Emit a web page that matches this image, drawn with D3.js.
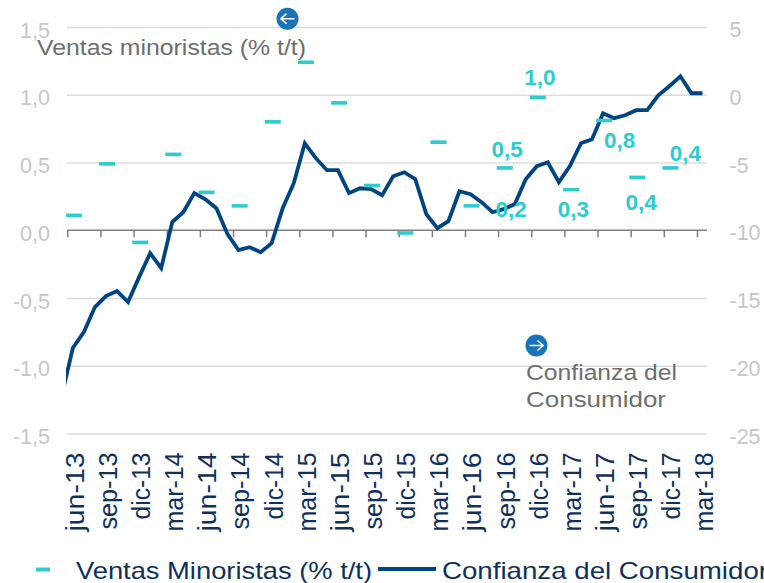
<!DOCTYPE html>
<html><head><meta charset="utf-8">
<script src="https://cdn.jsdelivr.net/npm/d3@7"></script>
<style>html,body{margin:0;padding:0;background:#fff;overflow:hidden}svg{display:block;font-family:"Liberation Sans",Arial,sans-serif}</style>
</head><body><svg id="c" width="764" height="583"></svg>
<script>
const quarterLabels = ["jun-13","sep-13","dic-13","mar-14","jun-14","sep-14","dic-14","mar-15","jun-15","sep-15","dic-15","mar-16","jun-16","sep-16","dic-16","mar-17","jun-17","sep-17","dic-17","mar-18"];
const ventas = [0.11,0.49,-0.09,0.56,0.28,0.18,0.80,1.24,0.94,0.33,-0.02,0.65,0.18,0.46,0.98,0.30,0.81,0.39,0.46,null];
const confianzaPrev = -22.2;
const confianza = [-18.69,-17.51,-15.67,-14.86,-14.49,-15.30,-13.46,-11.69,-12.80,-9.40,-8.67,-7.26,-7.71,-8.37,-10.29,-11.47,-11.25,-11.62,-10.95,-8.37,-6.53,-3.58,-4.68,-5.57,-5.57,-7.26,-6.90,-6.97,-7.41,-6.01,-5.72,-6.23,-8.81,-9.85,-9.33,-7.12,-7.34,-7.93,-8.67,-8.44,-8.08,-6.23,-5.27,-4.98,-6.45,-5.27,-3.58,-3.28,-1.36,-1.73,-1.51,-1.14,-1.14,-0.04,0.63,1.36,0.11,0.11];
const leftTicks = [1.5,1,0.5,0,-0.5,-1,-1.5];
const rightTicks = [5,0,-5,-10,-15,-20,-25];
const dataLabels = [
  {t:"1,0",i:42,v:0.98,dx:3,dy:-12},{t:"0,5",i:39,v:0.46,dx:3.5,dy:-11},{t:"0,2",i:39,v:0.18,dx:7.5,dy:11},
  {t:"0,3",i:45,v:0.30,dx:3.5,dy:27},{t:"0,8",i:48,v:0.81,dx:16.5,dy:28},{t:"0,4",i:51,v:0.39,dx:5,dy:33},{t:"0,4",i:54,v:0.46,dx:16,dy:-7}
];
const GRID="#dcdcdc", TICK="#c6c6c6", TEAL="#2dcccd", NAVY="#004481", DARK="#10305c", GREY="#6e6e6e", BLUE="#1973b8";
const svg=d3.select("#c");
const x=d3.scaleLinear().domain([0,58]).range([67.3,708]);
const yL=d3.scaleLinear().domain([-1.5,1.5]).range([433.5,27]);
const yR=d3.scaleLinear().domain([-25,5]).range([433.5,27]);
const fmt=d=>d3.format(".1f")(d).replace(".",",").replace("\u2212","-");

// gridlines
const gridAxis=d3.axisLeft(yL).tickValues(leftTicks.filter(d=>d!==0)).tickSize(-640).tickFormat("");
const gg=svg.append("g").attr("transform","translate(67,0)").call(gridAxis);
gg.select(".domain").remove();
gg.selectAll("line").attr("stroke",GRID).attr("stroke-width",1.5);

// left axis
const la=svg.append("g").attr("transform","translate(50,0)").call(d3.axisLeft(yL).tickValues(leftTicks).tickSize(0).tickPadding(0).tickFormat(fmt));
la.select(".domain").remove();
la.selectAll("text").attr("fill",TICK).attr("font-size",21.5).attr("font-family","Liberation Sans").attr("dy",10).attr("x",0);

// right axis
const ra=svg.append("g").attr("transform","translate(729.5,0)").call(d3.axisRight(yR).tickValues(rightTicks).tickSize(0).tickPadding(0).tickFormat(d=>String(d)));
ra.select(".domain").remove();
ra.selectAll("text").attr("fill",TICK).attr("font-size",21.5).attr("font-family","Liberation Sans").attr("dy",9.5).attr("x",0);

// x axis on zero line
const xa=svg.append("g").attr("transform",`translate(0,${yL(0)})`).call(d3.axisBottom(x).tickValues(quarterLabels.map((_,i)=>i*3)).tickSize(7).tickSizeOuter(0).tickPadding(0).tickFormat(""));
xa.select(".domain").attr("stroke","#808080").attr("stroke-width",1.5).attr("d","M67,0H707");
xa.selectAll("line").attr("stroke","#808080").attr("stroke-width",1.5);

// x labels
svg.append("g").selectAll("text").data(quarterLabels).join("text")
  .attr("transform",(d,i)=>`translate(${x(i*3)+16.5},452.5) rotate(-90)`)
  .attr("text-anchor","end").attr("fill",DARK).attr("font-size",25)
  .attr("textLength",d=>d.startsWith("dic")?67:d.startsWith("mar")?79:d.startsWith("sep")?77:79)
  .attr("lengthAdjust","spacingAndGlyphs").text(d=>d);

// confidence line
svg.append("clipPath").attr("id","pl").append("rect").attr("x",66).attr("y",0).attr("width",700).attr("height",583);
const line=d3.line().x(d=>x(d.i)).y(d=>yR(d.v));
svg.append("path").attr("clip-path","url(#pl)")
  .datum([{i:-0.5,v:confianzaPrev},...confianza.map((v,k)=>({i:k+0.5,v}))])
  .attr("d",line).attr("fill","none").attr("stroke",NAVY).attr("stroke-width",3.8).attr("stroke-linejoin","miter");

// retail dashes
svg.append("g").selectAll("line").data(ventas.map((v,k)=>({i:k*3+0.6,v})).filter(d=>d.v!==null)).join("line")
  .attr("x1",d=>x(d.i)-8).attr("x2",d=>x(d.i)+8).attr("y1",d=>yL(d.v)).attr("y2",d=>yL(d.v))
  .attr("stroke",TEAL).attr("stroke-width",3.6);

// data labels
svg.append("g").selectAll("text").data(dataLabels).join("text")
  .attr("x",d=>x(d.i+0.5)+d.dx).attr("y",d=>yL(d.v)+d.dy).attr("text-anchor","middle")
  .attr("fill",TEAL).attr("font-weight","bold").attr("font-size",22.5).text(d=>d.t);

// annotations
svg.append("text").attr("x",37).attr("y",55).attr("fill",GREY).attr("font-size",22).attr("textLength",269).attr("lengthAdjust","spacingAndGlyphs").text("Ventas minoristas (% t/t)");
svg.append("text").attr("x",526).attr("y",380).attr("fill",GREY).attr("font-size",22).attr("textLength",151).attr("lengthAdjust","spacingAndGlyphs").text("Confianza del");
svg.append("text").attr("x",526).attr("y",407).attr("fill",GREY).attr("font-size",22).attr("textLength",140).attr("lengthAdjust","spacingAndGlyphs").text("Consumidor");

// arrow icons
function icon(cx,cy,dir){
  const g=svg.append("g").attr("transform",`translate(${cx},${cy}) scale(${dir},1)`);
  g.append("circle").attr("r",11).attr("fill",BLUE);
  g.append("path").attr("d","M-7,0H6M1,-5L6.5,0L1,5").attr("fill","none").attr("stroke","#fff").attr("stroke-width",1.6);
}
icon(287.5,18.7,-1);
icon(536.5,345.5,1);

// legend
svg.append("line").attr("x1",36).attr("x2",50).attr("y1",569.5).attr("y2",569.5).attr("stroke",TEAL).attr("stroke-width",4);
svg.append("text").attr("x",76).attr("y",579).attr("fill",DARK).attr("font-size",24).attr("textLength",296).attr("lengthAdjust","spacingAndGlyphs").text("Ventas Minoristas (% t/t)");
svg.append("line").attr("x1",378).attr("x2",436).attr("y1",569).attr("y2",569).attr("stroke",NAVY).attr("stroke-width",4);
svg.append("text").attr("x",442).attr("y",579).attr("fill",DARK).attr("font-size",24).attr("textLength",326).attr("lengthAdjust","spacingAndGlyphs").text("Confianza del Consumidor");
</script></body></html>
